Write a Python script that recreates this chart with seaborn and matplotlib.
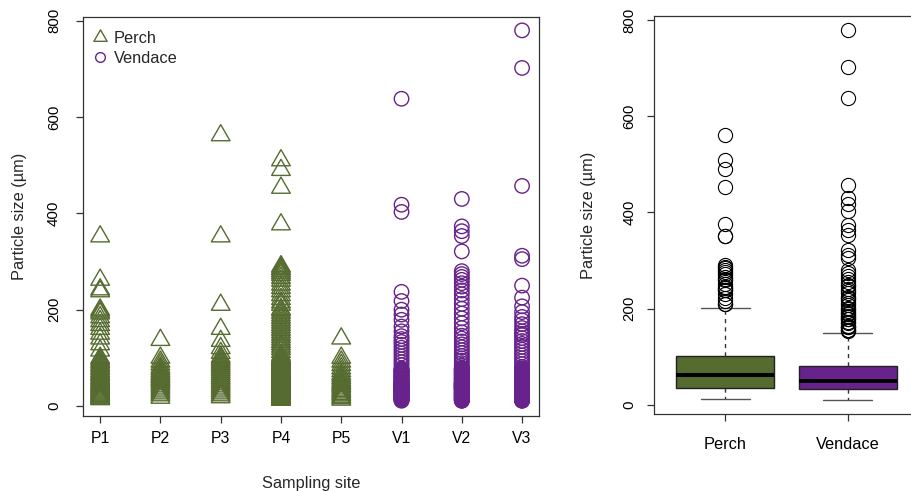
import matplotlib
matplotlib.use("Agg")
import matplotlib.pyplot as plt
from matplotlib.path import Path
from matplotlib.lines import Line2D
import pandas as pd
import seaborn as sns

# ---------------- data ----------------
sites = ["P1", "P2", "P3", "P4", "P5", "V1", "V2", "V3"]
perch_sites = ["P1", "P2", "P3", "P4", "P5"]
vendace_sites = ["V1", "V2", "V3"]
species_names = ["Perch", "Vendace"]

P1 = [352, 262, 242, 238, 200, 196, 192, 184, 176, 168, 160, 150, 140, 128, 115,
      100, 97, 93, 90, 86, 83, 79, 76, 72, 69, 66, 64,
      61, 58, 56, 53, 51, 48, 46, 44, 42, 40, 38, 36,
      34, 32, 30, 28, 26, 24, 22, 20, 19, 17, 15, 14]
P2 = [137, 100, 92, 86, 80, 76, 72, 68, 65, 62, 59, 56, 53, 50, 46, 42, 38,
      34, 30, 26, 22, 17]
P3 = [562, 352, 210, 160, 135, 120, 110, 102, 98, 94, 90, 86, 82, 78, 74, 70, 66,
      62, 58, 54, 50, 46, 42, 38, 34, 30, 26, 22, 18]
P4 = [510, 490, 453, 377, 290, 287, 284, 280, 276, 272, 266, 260, 252, 245, 238, 230, 222, 215, 210,
      201, 198, 193, 188, 183, 178, 173, 168, 163, 158, 153, 148, 143, 138, 133, 128, 123, 118, 112, 106,
      102, 101, 100, 99, 97, 96, 94, 93, 91, 90, 88, 87, 85, 84, 82, 81, 79, 78, 76, 75, 73, 72, 70,
      69, 68, 67, 66, 65, 64,
      62, 62, 61, 61, 60, 60, 59, 58, 57, 56, 55, 54, 53, 52, 52, 51, 50, 49, 48, 47, 46, 45, 44, 43,
      42, 41, 40, 39, 37, 36,
      34, 33, 33, 32, 31, 30, 29, 29, 28, 28, 27, 26, 25, 25, 24, 24, 23, 22, 21, 21, 20, 20, 19, 18,
      18, 17, 16, 16, 15, 15, 14, 14, 13, 13]
P5 = [140, 100, 92, 85, 78, 72, 66, 62, 58, 54, 50, 47, 44, 41, 38,
      34, 31, 28, 25, 22, 19, 16, 13]

V1 = [638, 418, 403, 237, 218, 200, 190, 179, 165, 155,
      145, 139, 133, 127, 121, 115, 109, 103, 97, 91, 85,
      78, 76, 75, 73, 72, 70, 69, 67, 66, 64, 63, 61, 60, 58, 57, 55, 54, 52, 51, 50,
      48, 47, 47, 46, 45, 44, 44, 43, 42, 41, 41, 40, 39, 38, 38, 37, 36, 35, 35, 34, 33,
      32, 31, 30, 29, 28, 27, 26, 25, 24, 23, 22, 21, 20, 19, 18, 17, 16, 15, 14, 13, 12, 11]
V2 = [430, 373, 363, 353, 321, 280, 274, 268, 262, 255, 248, 240, 232, 222, 212, 202, 192, 182,
      172, 162, 153,
      146, 140, 134, 128, 122, 116, 110, 104, 99, 94, 89, 84, 80,
      78, 77, 76, 75, 74, 73, 72, 71, 70, 69, 68, 67, 66, 65, 64, 63, 62, 61, 60, 59, 58, 57, 56,
      55, 54, 53, 52, 51, 50, 49,
      48, 48, 47, 47, 46, 46, 45, 45, 44, 44, 43, 43, 42, 42, 41, 41, 40, 40, 39, 39, 38, 38, 37,
      37, 36, 36, 35, 35, 34, 33,
      32, 31, 30, 30, 29, 28, 27, 27, 26, 25, 24, 24, 23, 22, 21, 21, 20, 19, 18, 18, 17, 16, 15,
      15, 14, 13, 12, 12, 11, 11]
V3 = [780, 702, 457, 312, 305, 250, 225, 207, 195, 185, 178, 170, 162, 155, 150,
      147, 141, 135, 129, 123, 117, 111, 105, 99, 93, 87, 81,
      78, 77, 76, 75, 74, 73, 72, 71, 70, 69, 68, 67, 66, 65, 64, 63, 62, 61, 60, 59, 58, 57, 56,
      55, 54, 53, 52, 51, 50, 49,
      48, 48, 47, 47, 46, 46, 45, 45, 44, 44, 43, 43, 42, 42, 41, 41, 40, 40, 39, 39, 38, 38, 37,
      37, 36, 36, 35, 35, 34, 33,
      32, 31, 30, 29, 28, 28, 27, 26, 25, 24, 23, 22, 22, 21, 20, 19, 18, 17, 16, 16, 15, 14, 13,
      13, 12, 12, 11, 11]

site_values = {"P1": P1, "P2": P2, "P3": P3, "P4": P4, "P5": P5,
               "V1": V1, "V2": V2, "V3": V3}

y_ticks = [0, 200, 400, 600, 800]
y_label = "Particle size (\u00b5m)"
x_label = "Sampling site"

# ---------------- tables ----------------
rows = []
for s in sites:
    sp = "Perch" if s in perch_sites else "Vendace"
    for v in site_values[s]:
        rows.append({"site": s, "species": sp, "size": v})
df = pd.DataFrame(rows)
df_perch = df[df["species"] == "Perch"]
df_vend = df[df["species"] == "Vendace"]

# ---------------- style ----------------
sns.set_style("ticks")
plt.rcParams["font.family"] = ["Liberation Sans", "DejaVu Sans"]
green = "#556B2F"
purple = "#68228B"
axcol = "#333333"
LABEL_FS = 11.8
TICK_FS = 10.8

tri = Path([(0, 1.555), (1.3468, -0.7776), (-1.3468, -0.7776), (0, 1.555)],
           [Path.MOVETO, Path.LINETO, Path.LINETO, Path.CLOSEPOLY])

fig = plt.figure(figsize=(9.11, 4.91), dpi=100)
ax1 = fig.add_axes([0.0914, 0.1527, 0.5002, 0.8126])
ax2 = fig.add_axes([0.7179, 0.1562, 0.2905, 0.8118])

# ---------------- left: strip plot ----------------
sns.stripplot(data=df_perch, x="site", y="size", order=sites, jitter=False,
              marker=tri, size=15.5, color=green, edgecolor=green,
              linewidth=1.0, ax=ax1)
sns.stripplot(data=df_vend, x="site", y="size", order=sites, jitter=False,
              marker="o", size=10.4, color=purple, edgecolor=purple,
              linewidth=1.0, ax=ax1)
for coll in ax1.collections:
    coll.set_facecolor("none")

ax1.set_xlim(-0.28, 7.28)
ax1.set_ylim(-20.8, 807.7)
ax1.set_yticks(y_ticks)
ax1.set_yticklabels([str(t) for t in y_ticks])
ax1.set_xlabel(x_label, fontsize=LABEL_FS, va="center")
ax1.xaxis.set_label_coords(0.5, -0.168)
ax1.set_ylabel(y_label, fontsize=LABEL_FS, va="center")
ax1.yaxis.set_label_coords(-0.141, 0.5)

handles = [
    Line2D([0], [0], marker=tri, ls="none", mfc="none", mec=green, ms=11, mew=1.0),
    Line2D([0], [0], marker="o", ls="none", mfc="none", mec=purple, ms=7, mew=1.0),
]
ax1.legend(handles, species_names, loc="upper left", frameon=False, fontsize=LABEL_FS,
           handletextpad=0.35, borderaxespad=0.0, labelspacing=0.28,
           handlelength=1.0, borderpad=0.5, bbox_to_anchor=(0.0, 0.985))

# ---------------- right: box plot ----------------
sns.boxplot(data=df, x="species", y="size", order=species_names,
            hue="species", hue_order=species_names, palette=[green, purple],
            saturation=1, legend=False, width=0.8, linecolor="black", linewidth=1.0,
            whis=1.5, ax=ax2,
            flierprops=dict(marker="o", markersize=10.2, markerfacecolor="none",
                            markeredgecolor="black", markeredgewidth=0.8),
            medianprops=dict(color="black", linewidth=2.8),
            whiskerprops=dict(color="#333333", linestyle=(0, (3, 3)), linewidth=1.0),
            capprops=dict(color="#555555", linewidth=1.0),
            boxprops=dict(edgecolor="#222222", linewidth=1.0))

ax2.set_xlim(-0.58, 1.58)
ax2.set_ylim(-19.5, 809)
ax2.set_yticks(y_ticks)
ax2.set_yticklabels([str(t) for t in y_ticks])
ax2.set_xlabel("")
ax2.set_ylabel(y_label, fontsize=LABEL_FS, va="center")
ax2.yaxis.set_label_coords(-0.249, 0.5)

# ---------------- common axis styling ----------------
for ax, ypad, xpad in ((ax1, 11.0, 6.0), (ax2, 7.5, 11.0)):
    for sp in ax.spines.values():
        sp.set_visible(True)
        sp.set_color(axcol)
        sp.set_linewidth(0.9)
    ax.tick_params(axis="both", direction="out", length=5, width=0.9,
                   color=axcol, labelcolor="black", top=False, right=False)
    ax.tick_params(axis="y", labelsize=TICK_FS, pad=ypad, labelrotation=90)
    ax.tick_params(axis="x", labelsize=11.3, pad=xpad)
    for lab in ax.get_yticklabels():
        lab.set_va("center")
    ax.grid(False)
ax2.tick_params(axis="x", labelsize=LABEL_FS)

fig.savefig("out.png", dpi=100)
